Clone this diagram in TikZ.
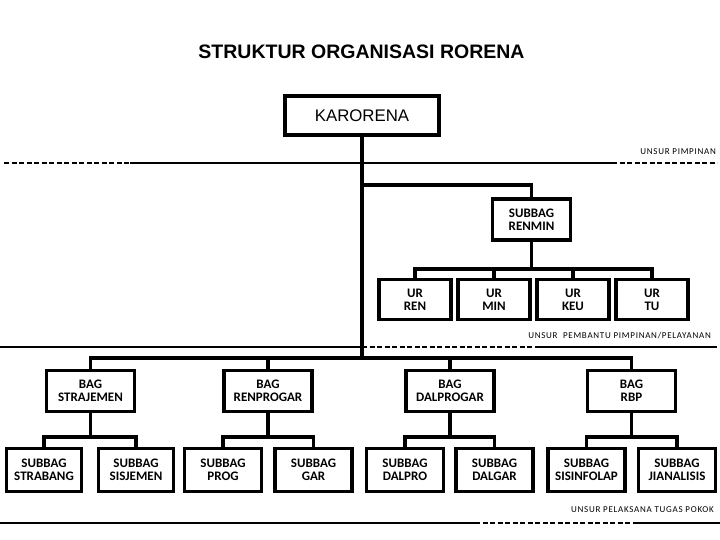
\documentclass[tikz,border=0pt]{standalone}
\usepackage{fontspec}
\setmainfont{Carlito}
\newfontfamily\arialfont{Liberation Sans}
\newfontfamily\lblfont[LetterSpace=8]{Carlito}
\begin{document}
\begin{tikzpicture}[x=1pt,y=-1pt,
  box/.style={draw,line width=3.5pt,fill=white,align=center,inner sep=0pt,
    font=\bfseries\fontsize{13}{13}\selectfont},
  urbox/.style={box,minimum width=72pt,minimum height=40pt},
  bagbox/.style={box,minimum width=88pt,minimum height=41pt},
  subbox/.style={box,minimum width=77pt,minimum height=43pt},
  conn/.style={line width=3.2pt},
  divider/.style={line width=2pt},
  dashdiv/.style={line width=2pt,dash pattern=on 5pt off 2.5pt},
  lbl/.style={anchor=east,inner sep=0pt,font=\lblfont\fontsize{9}{9}\selectfont}]
\useasboundingbox (0,0) rectangle (720,540);
\fill[white] (0,0) rectangle (720,540);

% title
\node[font=\arialfont\bfseries\fontsize{19.5}{20}\selectfont] (title) at (361.5,52) {STRUKTUR ORGANISASI RORENA};

% divider lines
\draw[dashdiv] (4,163) -- (130,163);
\draw[divider] (130,163) -- (612,163);
\draw[dashdiv] (612,163) -- (717,163);

\draw[divider] (0,347) -- (362,347);
\draw[dashdiv] (362,347) -- (537,347);
\draw[divider] (537,347) -- (712,347);
\draw[dashdiv] (712,347) -- (720,347);

\draw[divider] (0,523) -- (475,523);
\draw[dashdiv] (475,523) -- (637,523);
\draw[divider] (637,523) -- (720,523);

% labels
\node[lbl] (l1) at (716,152) {UNSUR PIMPINAN};
\node[lbl] (l2) at (711,336) {UNSUR\ \ PEMBANTU PIMPINAN/PELAYANAN};
\node[lbl] (l3) at (714,510) {UNSUR PELAKSANA TUGAS POKOK};

% coordinates for junctions
\coordinate (jr) at (0,185);
\coordinate (ju) at (0,269);
\coordinate (jb) at (0,358);
\coordinate (js) at (0,437);

% nodes
\node[box,minimum width=154pt,minimum height=39pt,
  font=\arialfont\fontsize{16.8}{17}\selectfont] (kar) at (362,115.5) {KARORENA};
\node[box,minimum width=78pt,minimum height=41pt] (renmin) at (531.5,219.5) {SUBBAG\\RENMIN};

\node[urbox] (ren) at (415,299.5) {UR\\REN};
\node[urbox] (min) at (494,299.5) {UR\\MIN};
\node[urbox] (keu) at (573,299.5) {UR\\KEU};
\node[urbox] (tu)  at (652,299.5) {UR\\TU};

\node[bagbox] (stra) at (90.5,391) {BAG\\STRAJEMEN};
\node[bagbox] (renp) at (268,391) {BAG\\RENPROGAR};
\node[bagbox] (dalp) at (450,391) {BAG\\DALPROGAR};
\node[bagbox] (rbp)  at (631.5,391) {BAG\\RBP};

\node[subbox,minimum width=75pt] (strab) at (44,470) {SUBBAG\\STRABANG};
\node[subbox,minimum width=75pt] (sisj)  at (136,470) {SUBBAG\\SISJEMEN};
\node[subbox] (prog)  at (223,470) {SUBBAG\\PROG};
\node[subbox] (gar)   at (313.5,470) {SUBBAG\\GAR};
\node[subbox] (dpro)  at (405,470) {SUBBAG\\DALPRO};
\node[subbox] (dgar)  at (494.5,470) {SUBBAG\\DALGAR};
\node[subbox] (sisin) at (586.5,470) {SUBBAG\\SISINFOLAP};
\node[subbox] (jian)  at (677,470) {SUBBAG\\JIANALISIS};

% connectors
\draw[conn] (kar.south) -- (kar.south |- jb);
\draw[conn] (kar.south |- jr) -| (renmin.north);
\draw[conn] (renmin.south) -- (renmin.south |- ju);
\draw[conn] (ren.north) -- (ren.north |- ju) -- (tu.north |- ju) -- (tu.north);
\draw[conn] (min.north) -- (min.north |- ju);
\draw[conn] (keu.north) -- (keu.north |- ju);

\draw[conn] (stra.north) -- (stra.north |- jb) -- (rbp.north |- jb) -- (rbp.north);
\draw[conn] (renp.north) -- (renp.north |- jb);
\draw[conn] (dalp.north) -- (dalp.north |- jb);

\draw[conn] (stra.south) -- (stra.south |- js);
\draw[conn] (strab.north) -- (strab.north |- js) -- (sisj.north |- js) -- (sisj.north);
\draw[conn] (renp.south) -- (renp.south |- js);
\draw[conn] (prog.north) -- (prog.north |- js) -- (gar.north |- js) -- (gar.north);
\draw[conn] (dalp.south) -- (dalp.south |- js);
\draw[conn] (dpro.north) -- (dpro.north |- js) -- (dgar.north |- js) -- (dgar.north);
\draw[conn] (rbp.south) -- (rbp.south |- js);
\draw[conn] (sisin.north) -- (sisin.north |- js) -- (jian.north |- js) -- (jian.north);
\end{tikzpicture}
\end{document}
